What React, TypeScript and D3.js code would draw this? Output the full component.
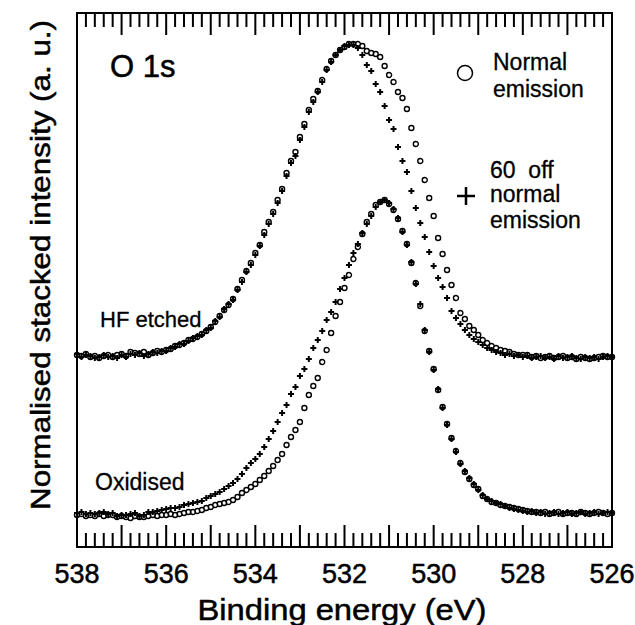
import React from 'react';
import * as d3 from 'd3';

// measurement grid: 538 -> 526 eV in 0.1 eV steps
const energies = d3.range(0, 121).map((i) => +(538 - i * 0.1).toFixed(1));

// intensities (a.u., stacked)
const hfNormal = [
  192, 191, 193, 190, 191, 189, 191, 192, 190, 192, 193, 191, 195, 194, 193, 195, 192, 194, 196, 195,
  197, 198, 201, 202, 204, 207, 208, 210, 213, 216, 220, 225, 231, 237, 242, 248, 258, 267, 276, 284,
  294, 302, 315, 325, 335, 347, 358, 374, 386, 395, 410, 423, 437, 448, 456, 467, 478, 486, 492, 497,
  500, 503, 503, 503, 501, 496, 494, 493, 490, 481, 472, 465, 455, 449, 438, 419, 403, 386, 367, 349,
  331, 309, 293, 277, 262, 249, 234, 228, 221, 217, 212, 207, 204, 201, 199, 197, 196, 195, 193, 192,
  192, 192, 190, 191, 189, 190, 191, 189, 190, 191, 189, 190, 188, 190, 189, 188, 189, 190, 191, 190,
  190,
];
const hfOff = [
  193, 190, 192, 191, 189, 190, 192, 190, 191, 189, 192, 190, 193, 192, 194, 191, 193, 195, 194, 196,
  196, 199, 200, 203, 203, 206, 209, 211, 212, 217, 219, 226, 230, 238, 243, 247, 257, 265, 275, 282,
  292, 301, 312, 323, 333, 344, 356, 371, 384, 391, 407, 420, 435, 445, 455, 465, 477, 485, 492, 497,
  501, 502, 502, 499, 492, 482, 476, 463, 455, 441, 427, 418, 400, 386, 375, 356, 339, 324, 310, 295,
  281, 269, 260, 249, 236, 229, 223, 217, 212, 208, 205, 202, 199, 197, 195, 194, 192, 193, 191, 192,
  190, 191, 189, 190, 191, 189, 190, 188, 191, 189, 190, 191, 189, 188, 190, 189, 190, 188, 190, 191,
  190,
];
const oxNormal = [
  32, 33, 31, 32, 31, 33, 31, 32, 32, 30, 31, 30, 29, 31, 30, 30, 31, 32, 31, 32,
  32, 33, 32, 33, 34, 35, 35, 36, 37, 39, 40, 42, 43, 44, 45, 47, 50, 54, 57, 60,
  63, 67, 71, 76, 81, 87, 93, 102, 110, 117, 125, 139, 152, 161, 169, 185, 197, 214, 231, 245,
  259, 272, 288, 300, 313, 325, 333, 342, 345, 347, 343, 337, 328, 316, 303, 284, 264, 241, 216, 196,
  178, 157, 140, 123, 109, 96, 84, 75, 68, 62, 58, 51, 48, 45, 44, 42, 41, 40, 39, 38,
  37, 36, 35, 35, 34, 35, 33, 34, 35, 33, 34, 34, 33, 35, 34, 33, 34, 35, 34, 33,
  34,
];
const oxOff = [
  34, 35, 33, 34, 33, 34, 35, 33, 34, 31, 32, 32, 33, 34, 31, 32, 35, 35, 36, 37,
  38, 39, 39, 40, 42, 43, 44, 45, 46, 49, 51, 53, 55, 58, 61, 64, 68, 73, 79, 84,
  88, 93, 100, 108, 116, 125, 134, 142, 153, 160, 171, 178, 188, 199, 207, 216, 227, 235, 245, 258,
  269, 282, 294, 303, 314, 323, 331, 340, 345, 347, 344, 338, 329, 315, 302, 285, 263, 243, 217, 195,
  177, 158, 139, 122, 108, 95, 83, 76, 69, 63, 57, 52, 48, 46, 44, 43, 41, 39, 38, 37,
  36, 35, 36, 34, 35, 33, 34, 35, 33, 34, 35, 33, 34, 35, 33, 34, 35, 33, 34, 35,
  34,
];

const xTickLabels = [538, 536, 534, 532, 530, 528, 526];
const majorTicks = [526, 527, 528, 529, 530, 531, 532, 533, 534, 535, 536, 537, 538];
const minorTicks = [
  526.2, 526.4, 526.6, 526.8, 527.2, 527.4, 527.6, 527.8, 528.2, 528.4, 528.6, 528.8,
  529.2, 529.4, 529.6, 529.8, 530.2, 530.4, 530.6, 530.8, 531.2, 531.4, 531.6, 531.8,
  532.2, 532.4, 532.6, 532.8, 533.2, 533.4, 533.6, 533.8, 534.2, 534.4, 534.6, 534.8,
  535.2, 535.4, 535.6, 535.8, 536.2, 536.4, 536.6, 536.8, 537.2, 537.4, 537.6, 537.8,
];

const W = 635;
const H = 625;
const mLeft = 77;
const mRight = 612;
const mTop = 13;
const mBottom = 547;
const font = 'Arial, "Liberation Sans", sans-serif';

export default function App() {
  const x = d3.scaleLinear().domain([538, 526]).range([mLeft, mRight]);
  const y = d3.scaleLinear().domain([0, 534]).range([mBottom, mTop]);

  // one path per series keeps the element count small
  const r = 2.5;
  const circlePath = (vals: number[]) =>
    vals
      .map((v, i) => {
        const cx = x(energies[i]);
        const cy = y(v);
        return `M${cx + r},${cy}a${r},${r} 0 1,0 ${-2 * r},0a${r},${r} 0 1,0 ${2 * r},0`;
      })
      .join('');
  const plusPath = (vals: number[]) =>
    vals
      .map((v, i) => {
        const cx = x(energies[i]);
        const cy = y(v);
        return `M${cx - 3},${cy}h6M${cx},${cy - 3}v6`;
      })
      .join('');

  const txt = { fill: '#000', stroke: '#000', strokeWidth: 0.5 };

  return (
    <svg width={W} height={H} style={{ position: 'absolute', left: 0, top: 0 }} fontFamily={font}>
      <path d={circlePath(hfNormal)} fill="none" stroke="#000" strokeWidth={1.4} />
      <path d={plusPath(hfOff)} fill="none" stroke="#000" strokeWidth={2} />
      <path d={circlePath(oxNormal)} fill="none" stroke="#000" strokeWidth={1.4} />
      <path d={plusPath(oxOff)} fill="none" stroke="#000" strokeWidth={2} />

      <rect x={mLeft} y={mTop} width={mRight - mLeft} height={mBottom - mTop} fill="none" stroke="#000" strokeWidth={2} />
      {minorTicks.map((v) => (
        <rect key={'mt' + v} x={x(v) - 1} y={mTop} width={2} height={14} fill="#000" />
      ))}
      {minorTicks.map((v) => (
        <rect key={'mb' + v} x={x(v) - 1} y={mBottom - 14} width={2} height={14} fill="#000" />
      ))}
      {majorTicks.map((v) => (
        <rect key={'Mt' + v} x={x(v) - 1} y={mTop} width={2} height={22} fill="#000" />
      ))}
      {majorTicks.map((v) => (
        <rect key={'Mb' + v} x={x(v) - 1} y={mBottom - 22} width={2} height={22} fill="#000" />
      ))}

      {xTickLabels.map((v) => (
        <text key={'t' + v} x={x(v)} y={583} textAnchor="middle" fontSize={27} {...txt}>
          {v}
        </text>
      ))}
      <text x={342} y={620} textAnchor="middle" fontSize={29} textLength={289} lengthAdjust="spacingAndGlyphs" {...txt}>
        Binding energy (eV)
      </text>
      <text
        transform="translate(50,265) rotate(-90)"
        textAnchor="middle"
        fontSize={28}
        textLength={490}
        lengthAdjust="spacingAndGlyphs"
        {...txt}
      >
        Normalised stacked intensity (a. u.)
      </text>

      <text x={110} y={77} fontSize={31} {...txt}>O 1s</text>
      <text x={100} y={327} fontSize={22} {...txt} strokeWidth={0.3}>HF etched</text>
      <text x={95} y={490} fontSize={23} {...txt} strokeWidth={0.3}>Oxidised</text>

      <circle cx={465} cy={73} r={7.5} fill="none" stroke="#000" strokeWidth={1.5} />
      <text x={493} y={70} fontSize={23} {...txt} strokeWidth={0.3}>Normal</text>
      <text x={493} y={97} fontSize={23} {...txt} strokeWidth={0.3}>emission</text>
      <path d="M457,196H475M466,187V205" stroke="#000" strokeWidth={2.5} />
      <text x={490} y={178} fontSize={23} style={{ whiteSpace: 'pre' }} {...txt} strokeWidth={0.3}>60  off</text>
      <text x={490} y={202} fontSize={23} {...txt} strokeWidth={0.3}>normal</text>
      <text x={490} y={228} fontSize={23} {...txt} strokeWidth={0.3}>emission</text>
    </svg>
  );
}
